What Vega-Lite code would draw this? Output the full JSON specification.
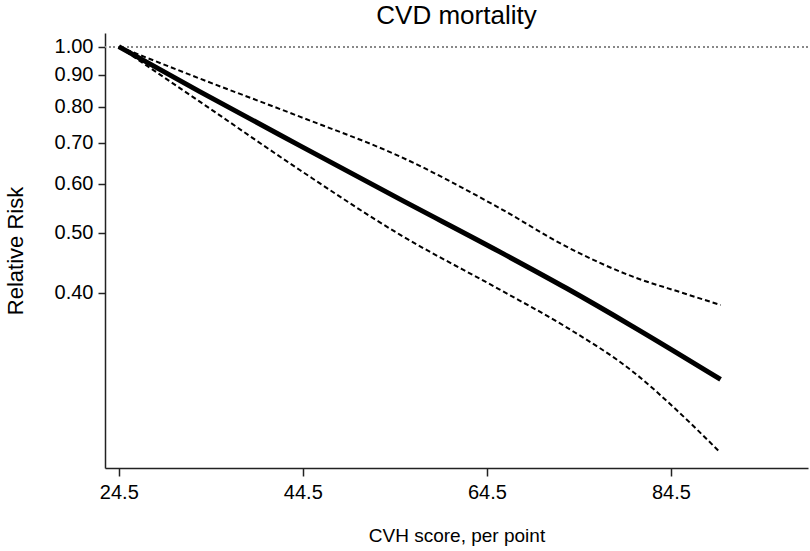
{
  "$schema": "https://vega.github.io/schema/vega-lite/v6.json",
  "width": 703,
  "height": 435,
  "autosize": {"type": "none"},
  "padding": {"left": 105, "top": 33, "right": 2, "bottom": 83},
  "background": "white",
  "config": {
    "view": {"stroke": null},
    "font": "Liberation Sans",
    "axis": {
      "grid": false,
      "domainColor": "#222",
      "domainWidth": 1.5,
      "tickColor": "#222",
      "tickWidth": 1.5,
      "labelColor": "#000",
      "titleColor": "#000",
      "labelFont": "Liberation Sans",
      "titleFont": "Liberation Sans",
      "labelFontSize": 20,
      "titleFontWeight": "normal"
    }
  },
  "title": {
    "text": "CVD mortality",
    "fontSize": 26,
    "fontWeight": "normal",
    "font": "Liberation Sans",
    "color": "#000",
    "anchor": "middle",
    "offset": 4
  },
  "data": {
    "values": [
      {"x": 24.5, "series": "estimate", "rr": 1.0},
      {"x": 33.3, "series": "estimate", "rr": 0.846},
      {"x": 44.17, "series": "estimate", "rr": 0.692},
      {"x": 55.04, "series": "estimate", "rr": 0.567},
      {"x": 65.91, "series": "estimate", "rr": 0.466},
      {"x": 73.16, "series": "estimate", "rr": 0.407},
      {"x": 80.37, "series": "estimate", "rr": 0.353},
      {"x": 89.9, "series": "estimate", "rr": 0.29},
      {"x": 24.5, "series": "upper", "rr": 1.0},
      {"x": 33.3, "series": "upper", "rr": 0.888},
      {"x": 44.17, "series": "upper", "rr": 0.7707},
      {"x": 55.04, "series": "upper", "rr": 0.6647},
      {"x": 65.91, "series": "upper", "rr": 0.5482},
      {"x": 73.16, "series": "upper", "rr": 0.4752},
      {"x": 80.37, "series": "upper", "rr": 0.425},
      {"x": 85.8, "series": "upper", "rr": 0.4},
      {"x": 89.9, "series": "upper", "rr": 0.3825},
      {"x": 24.5, "series": "lower", "rr": 1.0},
      {"x": 33.3, "series": "lower", "rr": 0.815},
      {"x": 44.17, "series": "lower", "rr": 0.632},
      {"x": 55.04, "series": "lower", "rr": 0.497},
      {"x": 65.91, "series": "lower", "rr": 0.405},
      {"x": 73.16, "series": "lower", "rr": 0.352},
      {"x": 80.37, "series": "lower", "rr": 0.2985},
      {"x": 85.12, "series": "lower", "rr": 0.2588},
      {"x": 89.7, "series": "lower", "rr": 0.2222}
    ]
  },
  "encoding": {
    "x": {
      "field": "x",
      "type": "quantitative",
      "title": "CVH score, per point",
      "scale": {"domain": [23, 99.4], "nice": false, "zero": false},
      "axis": {
        "values": [24.5, 44.5, 64.5, 84.5],
        "format": ".1f",
        "tickSize": 8,
        "labelPadding": 6,
        "titleFontSize": 19,
        "titlePadding": 24
      }
    },
    "y": {
      "field": "rr",
      "type": "quantitative",
      "title": "Relative Risk",
      "scale": {"type": "log", "domain": [0.2086, 1.052], "nice": false, "zero": false},
      "axis": {
        "values": [0.4, 0.5, 0.6, 0.7, 0.8, 0.9, 1.0],
        "format": ".2f",
        "tickSize": 7,
        "labelPadding": 5,
        "titleFontSize": 22,
        "titlePadding": 27
      }
    }
  },
  "layer": [
    {
      "mark": {"type": "rule", "color": "#888", "strokeDash": [1.5, 3], "strokeWidth": 1.2},
      "encoding": {"y": {"datum": 1}, "x": null}
    },
    {
      "transform": [{"filter": "datum.series === 'upper'"}],
      "mark": {"type": "line", "color": "#000", "strokeWidth": 2, "strokeDash": [5, 3], "interpolate": "monotone"}
    },
    {
      "transform": [{"filter": "datum.series === 'lower'"}],
      "mark": {"type": "line", "color": "#000", "strokeWidth": 2, "strokeDash": [5, 3], "interpolate": "monotone"}
    },
    {
      "transform": [{"filter": "datum.series === 'estimate'"}],
      "mark": {"type": "line", "color": "#000", "strokeWidth": 5, "interpolate": "monotone"}
    }
  ]
}
